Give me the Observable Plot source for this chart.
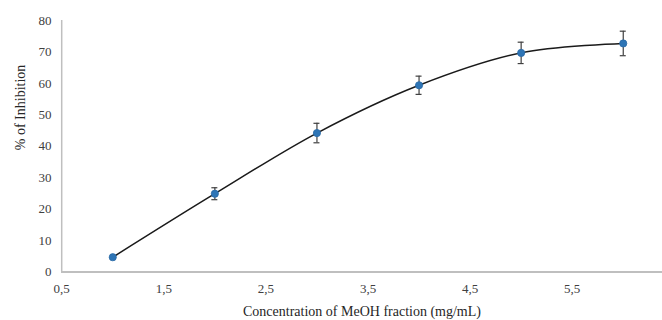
<!DOCTYPE html>
<html>
<head>
<meta charset="utf-8">
<script src="https://cdn.jsdelivr.net/npm/d3@7"></script>
<script src="https://cdn.jsdelivr.net/npm/@observablehq/plot@0.6"></script>
<style>
  html, body { margin: 0; padding: 0; background: #fff; }
  #chart svg { display: block; }
</style>
</head>
<body>
<div id="chart"></div>
<script>
const concentration = [1, 2, 3, 4, 5, 6];
const inhibition = [4.7, 24.9, 44.2, 59.4, 69.7, 72.7];
const errors = [0.4, 1.9, 3.1, 2.9, 3.4, 3.9];
const xTicks = [0.5, 1.5, 2.5, 3.5, 4.5, 5.5];
const yTicks = [0, 10, 20, 30, 40, 50, 60, 70, 80];
const xTitle = "Concentration of MeOH fraction (mg/mL)";
const yTitle = "% of Inhibition";

const data = concentration.map((c, i) => ({x: c, y: inhibition[i], e: errors[i]}));
const font = "'Liberation Serif', 'Times New Roman', serif";

const chart = Plot.plot({
  width: 662,
  height: 320,
  marginLeft: 61,
  marginRight: 0,
  marginTop: 20,
  marginBottom: 48.5,
  style: {fontFamily: font, fontSize: "13px", color: "#404040", background: "#fff"},
  x: {domain: [0.5, 6.5], range: [61.2, 673.8], ticks: xTicks, tickFormat: d => d3.format(".1f")(d).replace(".", ","), tickSize: 0, tickPadding: 12, label: null},
  y: {domain: [0, 80], ticks: yTicks, tickSize: 0, tickPadding: 10, label: null},
  marks: [
    Plot.ruleX([0.5], {y1: 0, y2: 80, stroke: "#bfbfbf", strokeWidth: 1.5}),
    Plot.ruleY([0], {stroke: "#bfbfbf", strokeWidth: 2}),
    Plot.line(data, {x: "x", y: "y", curve: "catmull-rom", stroke: "#1a1a1a", strokeWidth: 1.5}),
    Plot.ruleX(data.filter(d => d.e > 0.5), {x: "x", y1: d => d.y - d.e, y2: d => d.y + d.e, stroke: "#404040", strokeWidth: 1.2}),
    Plot.ruleY(data.filter(d => d.e > 0.5), {y: d => d.y + d.e, x1: "x", x2: "x", insetLeft: -3, insetRight: -3, stroke: "#404040", strokeWidth: 1.2}),
    Plot.ruleY(data.filter(d => d.e > 0.5), {y: d => d.y - d.e, x1: "x", x2: "x", insetLeft: -3, insetRight: -3, stroke: "#404040", strokeWidth: 1.2}),
    Plot.dot(data, {x: "x", y: "y", r: 3.6, fill: "#2e75b6", stroke: "#2a6aa6", strokeWidth: 0.8}),
    Plot.text([xTitle], {frameAnchor: "bottom", dy: 40, lineAnchor: "middle", fontSize: 14, fill: "#262626", text: d => d}),
    Plot.text([yTitle], {frameAnchor: "left", dx: -41, dy: 4, rotate: -90, lineAnchor: "middle", fontSize: 14, fill: "#262626", text: d => d})
  ]
});
document.getElementById("chart").append(chart);
</script>
</body>
</html>
